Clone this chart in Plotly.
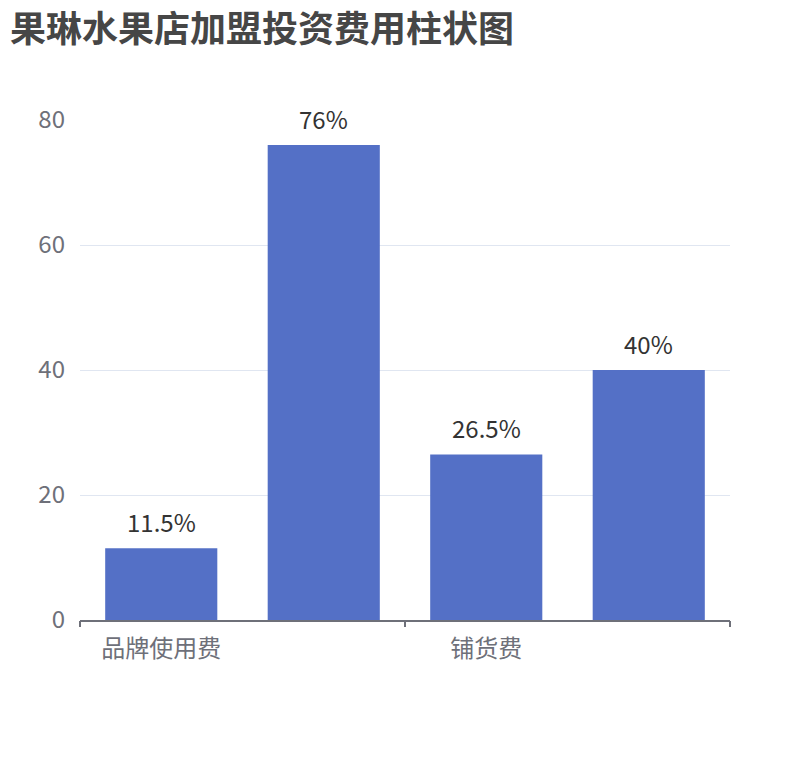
import plotly.graph_objects as go

# chart data
categories = ['品牌使用费', '加盟费', '铺货费', '装修费']
values = [11.5, 76, 26.5, 40]
labels = ['11.5%', '76%', '26.5%', '40%']
shown_ticks = ['品牌使用费', '铺货费']

font_family = 'Noto Sans CJK SC, Noto Sans, sans-serif'
x_pos = list(range(len(categories)))

fig = go.Figure()
fig.add_trace(go.Bar(
    x=x_pos, y=values,
    marker=dict(color='#5470C6', line=dict(width=0)),
    width=0.69, hoverinfo='skip',
))
# invisible trace on second x axis just to draw the boundary ticks
fig.add_trace(go.Scatter(x=[-0.5, 3.5], y=[0, 0], xaxis='x2', mode='markers',
                         marker=dict(opacity=0), hoverinfo='skip'))

# value labels above bars
for xp, v, lab in zip(x_pos, values, labels):
    fig.add_annotation(x=xp, y=v, text=lab, showarrow=False, yanchor='bottom',
                       yshift=7, font=dict(size=24, color='#333333', family=font_family))

fig.update_layout(
    width=810, height=760,
    margin=dict(l=72, r=88, t=112, b=148),
    paper_bgcolor='white', plot_bgcolor='white',
    showlegend=False,
    title=dict(text='<b>果琳水果店加盟投资费用柱状图</b>', x=2 / 810, xanchor='left', xref='container',
               y=1 - 9 / 760, yanchor='top', yref='container', pad=dict(t=0, b=0),
               font=dict(size=36, color='#464646', family=font_family)),
    xaxis=dict(range=[-0.5, 3.5], tickvals=[categories.index(c) for c in shown_ticks],
               ticktext=shown_ticks, ticks='', showgrid=False, zeroline=False,
               showline=True, linecolor='#6E7079', linewidth=1.5, ticklabelstandoff=6,
               tickfont=dict(size=24, color='#6E7079', family=font_family)),
    xaxis2=dict(range=[-0.5, 3.5], overlaying='x', side='bottom', anchor='y',
                tickvals=[-0.5, 1.5, 3.5], showticklabels=False, ticks='outside',
                ticklen=6, tickcolor='#6E7079', tickwidth=1.5, showgrid=False,
                zeroline=False, showline=False),
    yaxis=dict(range=[0, 80], dtick=20, showgrid=True, gridcolor='#E0E6F1', gridwidth=1.3,
               zeroline=False, showline=False, ticks='', ticklabelstandoff=14,
               tickfont=dict(size=24, color='#6E7079', family=font_family)),
)

fig.write_html('out.html')
